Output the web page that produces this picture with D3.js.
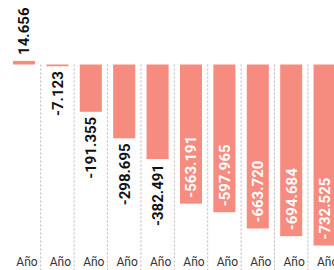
<!DOCTYPE html>
<html>
<head>
  <meta charset="utf-8">
  <script src="https://d3js.org/d3.v7.min.js"></script>
  <style>
    body { margin: 0; background: #fff; }
    svg { display: block; }
  </style>
</head>
<body>
  <script type="text/javascript">
    /* chart values */
    var categories = ["c0", "c1", "c2", "c3", "c4", "c5", "c6", "c7", "c8", "c9"];
    var tickLabels = ["Año", "Año", "Año", "Año", "Año", "Año", "Año", "Año", "Año", "Año"];
    var values = [14.656, -7.123, -191.355, -298.695, -382.491, -563.191, -597.965, -663.720, -694.684, -732.525];
    var valueLabels = ["14.656", "-7.123", "-191.355", "-298.695", "-382.491", "-563.191", "-597.965", "-663.720", "-694.684", "-732.525"];

    "use strict";
    var width = 334,
        height = 270;

    var svg = d3.select("body")
      .append("svg")
        .attr("width", width)
        .attr("height", height);

    var x = d3.scaleBand()
      .domain(categories)
      .range([7.3, 341.3])
      .paddingInner(0.34)
      .paddingOuter(0.17);

    var y = d3.scaleLinear()
      .domain([0, -732.525])
      .range([64.5, 245.5]);

    /* dotted separators between columns */
    svg.selectAll("line.sep")
      .data(categories.slice(1))
      .enter()
      .append("line")
        .attr("class", "sep")
        .attr("x1", function (d) { return x(d) - x.step() * x.paddingInner() / 2; })
        .attr("x2", function (d) { return x(d) - x.step() * x.paddingInner() / 2; })
        .attr("y1", y(0))
        .attr("y2", height)
        .style("stroke", "#b8b8b8")
        .style("stroke-width", 1)
        .style("stroke-dasharray", "2,2");

    /* bars */
    svg.selectAll("rect.bar")
      .data(values)
      .enter()
      .append("rect")
        .attr("class", "bar")
        .attr("x", function (d, i) { return x(categories[i]); })
        .attr("width", x.bandwidth())
        .attr("y", function (d) { return Math.min(y(d), y(0)); })
        .attr("height", function (d) { return Math.abs(y(d) - y(0)); })
        .style("fill", "#f68b80");

    /* rotated value labels, inside long bars, outside short ones */
    function inside(d) { return Math.abs(y(d) - y(0)) > 120; }

    svg.selectAll("text.val")
      .data(values)
      .enter()
      .append("text")
        .attr("class", "val")
        .attr("transform", function (d, i) {
          var cx = x(categories[i]) + x.bandwidth() / 2;
          var ty;
          if (d >= 0) ty = y(d) - 6;
          else if (inside(d)) ty = y(d) - 6;
          else ty = y(d) + 5;
          return "translate(" + cx + "," + ty + ") rotate(-90)";
        })
        .attr("dy", "0.36em")
        .attr("text-anchor", function (d) {
          return (d >= 0 || inside(d)) ? "start" : "end";
        })
        .style("font-family", "Roboto, sans-serif")
        .style("font-weight", "bold")
        .style("font-size", "15px")
        .style("fill", function (d) { return inside(d) ? "#fff" : "#111"; })
        .text(function (d, i) { return valueLabels[i]; });

    /* category labels along the bottom */
    svg.selectAll("text.cat")
      .data(tickLabels)
      .enter()
      .append("text")
        .attr("class", "cat")
        .attr("x", function (d, i) { return x(categories[i]) + x.bandwidth() / 2 + 3; })
        .attr("y", 266)
        .attr("text-anchor", "middle")
        .style("font-family", "Roboto, sans-serif")
        .style("font-size", "12px")
        .style("fill", "#333")
        .text(function (d) { return d; });
  </script>
</body>
</html>
